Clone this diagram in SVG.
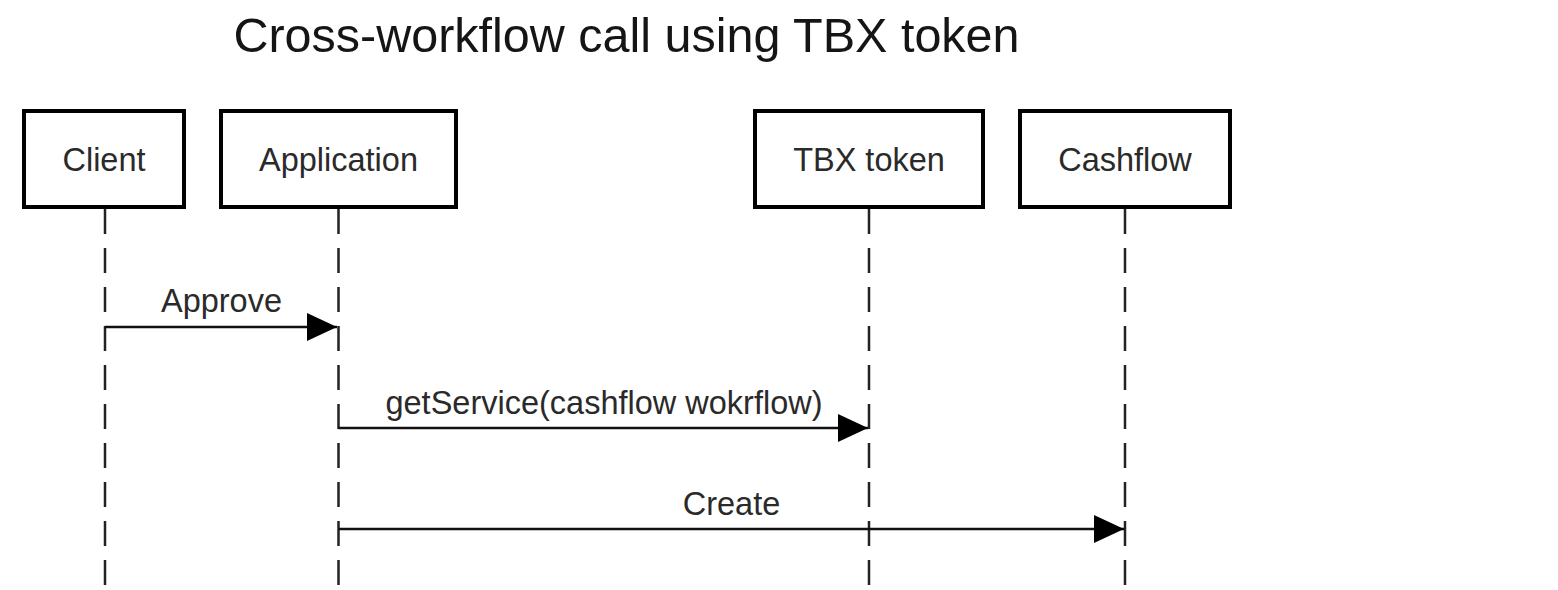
<svg xmlns="http://www.w3.org/2000/svg" width="1558" height="590" viewBox="0 0 1558 590">
<defs>
<style>
.box{fill:#fff;stroke:#000;stroke-width:4}
.lbl{font-family:"Liberation Sans",Arial,sans-serif;font-size:32.5px;fill:#2a2a2a;text-anchor:middle}
.life{stroke:#222;stroke-width:2.5;stroke-dasharray:25 14;fill:none}
.msg{stroke:#111;stroke-width:2.5;fill:none}
.title{font-family:"Liberation Sans",Arial,sans-serif;font-size:48.5px;fill:#151515;text-anchor:middle}
</style>
<marker id="ah" markerUnits="userSpaceOnUse" markerWidth="30" markerHeight="28" viewBox="0 0 30 28" refX="30" refY="14" orient="auto">
<path d="M0,0 L30,14 L0,28 Z" fill="#000"/>
</marker>
</defs>
<rect width="1558" height="590" fill="#fff"/>
<text class="title" x="626.5" y="52">Cross-workflow call using TBX token</text>
<g id="lifelines">
<line class="life" x1="105" y1="209" x2="105" y2="590"/>
<line class="life" x1="338.5" y1="209" x2="338.5" y2="590"/>
<line class="life" x1="869" y1="209" x2="869" y2="590"/>
<line class="life" x1="1125" y1="209" x2="1125" y2="590"/>
</g>
<g id="client"><rect class="box" x="24" y="111" width="160" height="96"/><text class="lbl" x="104" y="171">Client</text></g>
<g id="application"><rect class="box" x="221" y="111" width="235" height="96"/><text class="lbl" x="338.5" y="171">Application</text></g>
<g id="tbx"><rect class="box" x="755" y="111" width="228" height="96"/><text class="lbl" x="869" y="171">TBX token</text></g>
<g id="cashflow"><rect class="box" x="1020" y="111" width="210" height="96"/><text class="lbl" x="1125" y="171">Cashflow</text></g>
<g id="connectors">
<line class="msg" x1="105" y1="327" x2="337" y2="327" marker-end="url(#ah)"/>
<text class="lbl" x="221.5" y="312">Approve</text>
<line class="msg" x1="338.5" y1="428" x2="868" y2="428" marker-end="url(#ah)"/>
<text class="lbl" x="604" y="414">getService(cashflow wokrflow)</text>
<line class="msg" x1="338.5" y1="529" x2="1124" y2="529" marker-end="url(#ah)"/>
<text class="lbl" x="731.5" y="515">Create</text>
</g>
</svg>
